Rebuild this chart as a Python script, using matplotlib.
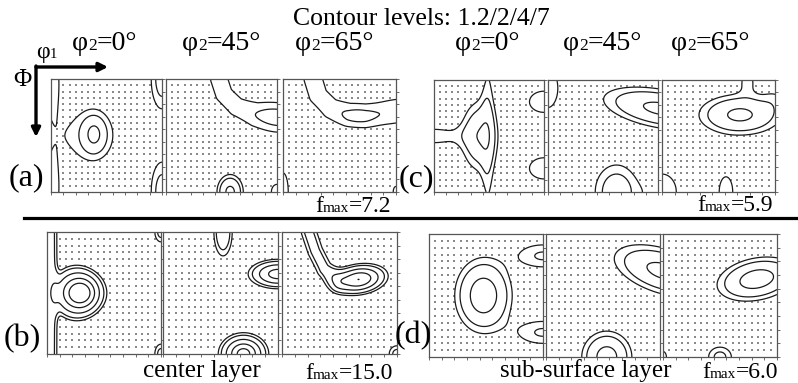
import numpy as np
import matplotlib.pyplot as plt
from matplotlib.patches import FancyArrowPatch
from matplotlib.lines import Line2D

plt.rcParams['font.family'] = ['Liberation Serif', 'DejaVu Serif']

W, H = 798, 383

levels = [1.2, 2, 4, 7, 10]
sections = ['0°', '45°', '65°']
fmax = {'a': '7.2', 'c': '5.9', 'b': '15.0', 'd': '6.0'}

# texture components per section: (phi1, Phi, width phi1, width Phi, height, tilt, shape)
peaks_a = [
    [(35, 44, 6, 9, 3.0, 0, 1), (32, 45, 17, 18, 1.9, 0, 1),
     (0, 0, 8, 27, 1.6, 0, 1), (0, 90, 8, 27, 1.6, 0, 1),
     (90, 0, 7, 19, 2.6, 0, 1), (90, 90, 7, 19, 2.6, 0, 1)],
    [(90, 31, 14, 11, 0.9, 0, 1), (52, 90, 6.5, 8.5, 4.6, 0, 1),
     (90, 90, 6, 8, 1.6, 0, 1)],
    [(60, 30, 12, 6, 0.8, 0, 1), (90, 25, 10, 10, 0.3, 0, 1),
     (0, 90, 5.5, 20, 1.6, 0, 1), (90, 90, 4, 8, 1.4, 0, 1)],
]
peaks_c = [
    [(37, 45, 9.5, 18, 3.6, 0, 1), (44, 45, 4, 60, 1.5, 0, 1),
     (0, 45, 20, 7, 1.6, 0, 1),
     (90, 17.5, 13, 9.3, 1.7, 0, 2), (90, 71, 13, 9.3, 1.7, 0, 2)],
    [(0, 6, 9, 19, 1.7, 0, 1), (92, 23, 29, 9.5, 4.5, 10, 1),
     (56, 90, 12.8, 16, 3.0, 0, 1), (90, 90, 10, 10, 1.0, 0, 1)],
    [(62, 28, 20, 10, 4.5, 0, 1), (68, 0, 6, 8, 1.4, 0, 1),
     (90, 14, 8, 8, 0.8, 0, 1), (0, 90, 15, 19, 1.6, 0, 1),
     (51, 90, 7, 16, 1.6, 0, 1)],
]
peaks_b = [
    [(26, 45, 10, 8.5, 11, 0, 1), (22, 45, 15, 16, 2.4, 0, 2),
     (0, 45, 7, 300, 2.6, 0, 2),
     (90, 0, 4, 6, 2.5, 0, 1), (90, 90, 4, 6, 2.5, 0, 1)],
    [(47, 0, 6.5, 16, 2.5, 0, 2), (90, 31, 11.8, 5.5, 8.5, 0, 1),
     (63, 90, 9.3, 7.4, 11.5, 0, 1)],
    [(60, 35, 11.3, 5.6, 10, -8, 1), (90, 90, 5, 5, 2.5, 0, 1)],
]
peaks_d = [
    [(43, 45, 13, 15.8, 5.5, 0, 1), (90, 16, 16.7, 7.4, 2.15, 0, 1),
     (90, 72, 16.7, 7.4, 2.15, 0, 1)],
    [(92, 27, 24, 10, 4.6, 16, 1), (48, 90, 11.7, 11.2, 5.0, 0, 1)],
    [(74, 33, 18.5, 9, 5.2, -10, 1), (45, 90, 7.6, 6.1, 2.4, 0, 1),
     (0, 90, 4, 6, 1.5, 0, 1)],
]

# fibre-like tubes: (centre line, width, height)
tubes_a = [
    [],
    [([(43, -5), (43, 0), (47, 12), (57, 22), (72, 28), (95, 31)], 9, 1.6)],
    [([(24, -5), (24, 0), (28, 13), (38, 23), (52, 28), (66, 29), (80, 27), (95, 25)], 9.5, 1.6)],
]
tubes_c = [[], [], []]
tubes_b = [
    [], [],
    [([(21, -5), (21, 0), (26, 14), (33, 27), (44, 36)], 4.7, 2.6)],
]
tubes_d = [[], [], []]


def odf(X, Y, peaks, tubes):
    f = np.zeros_like(X, dtype=float)
    for x0, y0, sx, sy, h, tilt, q in peaks:
        t = np.radians(tilt)
        u = (X - x0) * np.cos(t) + (Y - y0) * np.sin(t)
        v = -(X - x0) * np.sin(t) + (Y - y0) * np.cos(t)
        f += h * np.exp(-0.5 * ((u / sx) ** 2 + (v / sy) ** 2) ** q)
    for pts, w, h in tubes:
        d = np.full(X.shape, np.inf)
        for (x1, y1), (x2, y2) in zip(pts[:-1], pts[1:]):
            dx, dy = x2 - x1, y2 - y1
            s = np.clip(((X - x1) * dx + (Y - y1) * dy) / (dx * dx + dy * dy), 0, 1)
            d = np.minimum(d, np.hypot(X - x1 - s * dx, Y - y1 - s * dy))
        f += h * np.exp(-0.5 * (d / w) ** 2)
    return f


g = np.linspace(0, 90, 181)
GX, GY = np.meshgrid(g, g)
dots = np.arange(5, 90, 5)
DX, DY = np.meshgrid(dots, dots)

fig = plt.figure(figsize=(W / 100, H / 100), dpi=100)


def px(x, y):
    return x / W, 1 - y / H


def panel(box, peaks, tubes):
    x0, y0, x1, y1 = box
    ax = fig.add_axes([x0 / W, 1 - y1 / H, (x1 - x0) / W, (y1 - y0) / H])
    f = odf(GX, GY, peaks, tubes)
    ax.contour(GX, GY, f, levels, colors='#1a1a1a', linewidths=0.9)
    # grid points below the lowest level are marked with dots
    fd = odf(DX, DY, peaks, tubes)
    low = fd < levels[0]
    ax.scatter(DX[low], DY[low], s=0.8, c='#8a8a8a', marker='s', linewidths=0)
    ax.set_xlim(0, 90)
    ax.set_ylim(90, 0)
    ax.set_xticks(range(0, 91, 10))
    ax.set_yticks(range(0, 91, 10))
    ax.tick_params(bottom=True, right=True, top=False, left=False,
                   direction='out', length=2, width=0.6, colors='#555555',
                   labelbottom=False, labelleft=False)
    for sp in ax.spines.values():
        sp.set_color('#555555')
        sp.set_linewidth(0.9)
    return ax


boxes = {
    'a': [(51, 79, 162, 192), (166, 79, 277, 192), (283, 79, 396, 192)],
    'c': [(434, 80, 544, 192), (548, 80, 658, 192), (662, 80, 775, 192)],
    'b': [(47, 232, 161, 354), (163, 232, 278, 354), (282, 232, 397, 354)],
    'd': [(429, 234, 543, 357), (546, 234, 660, 357), (663, 234, 777, 357)],
}
data = {'a': (peaks_a, tubes_a), 'c': (peaks_c, tubes_c),
        'b': (peaks_b, tubes_b), 'd': (peaks_d, tubes_d)}

for key in boxes:
    pk, tb = data[key]
    for i in range(3):
        panel(boxes[key][i], pk[i], tb[i])

renderer = fig.canvas.get_renderer()


def sub_text(x, y, main, sub, rest, size, subsize):
    # main glyph, small index on the baseline, then the rest
    t = fig.text(*px(x, y), main, fontsize=size, va='baseline')
    x += t.get_window_extent(renderer).width
    t = fig.text(*px(x, y), sub, fontsize=subsize, va='baseline')
    x += t.get_window_extent(renderer).width
    if rest:
        fig.text(*px(x, y), rest, fontsize=size, va='baseline')


fig.text(*px(293, 25), 'Contour levels: 1.2/2/4/7', fontsize=18.5, va='baseline')

for xs, yb in [((72, 182, 295), 50), ((455, 563, 671), 50)]:
    for x, s in zip(xs, sections):
        sub_text(x, yb, 'φ', '2', '=' + s, 20, 12.5)

sub_text(36, 58, 'φ', '1', '', 17, 10.5)
fig.text(*px(22, 80), 'Φ', fontsize=18, ha='center', va='center')

fig.add_artist(FancyArrowPatch(px(36, 67), px(108, 67), transform=fig.transFigure,
                               arrowstyle='-|>', mutation_scale=13, lw=2.4,
                               color='black', shrinkA=0, shrinkB=0))
fig.add_artist(FancyArrowPatch(px(36, 66), px(36, 137), transform=fig.transFigure,
                               arrowstyle='-|>', mutation_scale=13, lw=2.4,
                               color='black', shrinkA=0, shrinkB=0))

for lab, (x, y) in {'(a)': (26, 178), '(c)': (416, 179),
                    '(b)': (22, 339), '(d)': (413, 336)}.items():
    fig.text(*px(x, y), lab, fontsize=23, ha='center', va='center')

sub_text(315, 212, 'f', 'max', '=' + fmax['a'], 17, 11)
sub_text(697, 211, 'f', 'max', '=' + fmax['c'], 17, 11)
sub_text(305, 379, 'f', 'max', '=' + fmax['b'], 17, 11)
sub_text(702, 378, 'f', 'max', '=' + fmax['d'], 17, 11)

fig.text(*px(143, 377), 'center layer', fontsize=18, va='baseline')
fig.text(*px(500, 377), 'sub-surface layer', fontsize=18, va='baseline')

fig.add_artist(Line2D([24 / W, 1], [1 - 218 / H] * 2, transform=fig.transFigure,
                      color='black', lw=2.3))

fig.savefig('out.png', dpi=100)
